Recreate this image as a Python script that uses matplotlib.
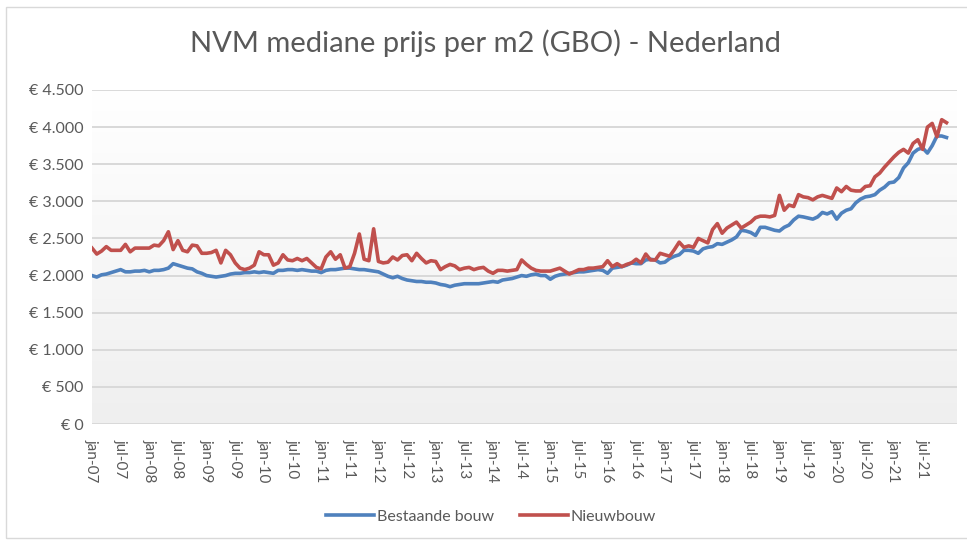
import numpy as np
import matplotlib.pyplot as plt
from matplotlib.colors import LinearSegmentedColormap
from matplotlib.patches import Rectangle

bestaande_bouw = [
    2000, 1980, 2010, 2020, 2040, 2060, 2080, 2050, 2050, 2060, 2060, 2070,  # 2007
    2050, 2070, 2070, 2080, 2100, 2160, 2140, 2120, 2100, 2090, 2050, 2030,  # 2008
    2000, 1990, 1980, 1990, 2000, 2020, 2030, 2030, 2040, 2040, 2050, 2040,  # 2009
    2050, 2040, 2030, 2070, 2070, 2080, 2080, 2070, 2080, 2070, 2060, 2060,  # 2010
    2040, 2070, 2080, 2080, 2090, 2100, 2100, 2090, 2080, 2080, 2070, 2060,  # 2011
    2050, 2020, 1990, 1970, 1990, 1960, 1940, 1930, 1920, 1920, 1910, 1910,  # 2012
    1900, 1880, 1870, 1850, 1870, 1880, 1890, 1890, 1890, 1890, 1900, 1910,  # 2013
    1920, 1910, 1940, 1950, 1960, 1980, 2000, 1990, 2010, 2020, 2000, 2000,  # 2014
    1950, 1990, 2010, 2020, 2030, 2040, 2050, 2050, 2060, 2070, 2080, 2070,  # 2015
    2030, 2100, 2110, 2120, 2140, 2170, 2160, 2160, 2210, 2220, 2210, 2170,  # 2016
    2180, 2230, 2260, 2280, 2340, 2340, 2330, 2300, 2360, 2380, 2390, 2430,  # 2017
    2420, 2450, 2480, 2520, 2610, 2600, 2580, 2540, 2650, 2650, 2630, 2610,  # 2018
    2600, 2650, 2680, 2750, 2800, 2790, 2775, 2760, 2790, 2850, 2830, 2860,  # 2019
    2760, 2840, 2880, 2900, 2980, 3030, 3060, 3070, 3090, 3150, 3190, 3250,  # 2020
    3260, 3320, 3450, 3520, 3650, 3700, 3720, 3650, 3750, 3880, 3880, 3860,  # 2021
]
nieuwbouw = [
    2370, 2290, 2330, 2390, 2340, 2340, 2340, 2420, 2320, 2370, 2370, 2370,  # 2007
    2370, 2410, 2400, 2470, 2590, 2350, 2470, 2340, 2320, 2410, 2400, 2300,  # 2008
    2300, 2310, 2340, 2170, 2340, 2280, 2170, 2100, 2080, 2100, 2140, 2320,  # 2009
    2280, 2280, 2140, 2170, 2280, 2210, 2200, 2230, 2200, 2230, 2170, 2110,  # 2010
    2090, 2250, 2320, 2220, 2280, 2100, 2120, 2300, 2560, 2220, 2200, 2630,  # 2011
    2190, 2170, 2180, 2250, 2210, 2270, 2280, 2200, 2300, 2230, 2170, 2200,  # 2012
    2190, 2080, 2120, 2150, 2130, 2080, 2100, 2110, 2080, 2100, 2110, 2060,  # 2013
    2030, 2070, 2070, 2060, 2070, 2080, 2210, 2150, 2100, 2070, 2060, 2060,  # 2014
    2060, 2080, 2100, 2060, 2020, 2050, 2080, 2080, 2100, 2100, 2110, 2120,  # 2015
    2200, 2120, 2160, 2120, 2150, 2170, 2220, 2170, 2290, 2210, 2210, 2300,  # 2016
    2280, 2260, 2350, 2450, 2380, 2400, 2380, 2500, 2470, 2440, 2620, 2700,  # 2017
    2570, 2640, 2680, 2720, 2640, 2680, 2720, 2780, 2800, 2800, 2790, 2810,  # 2018
    3080, 2880, 2950, 2930, 3090, 3060, 3050, 3020, 3060, 3080, 3060, 3040,  # 2019
    3180, 3130, 3200, 3150, 3140, 3140, 3200, 3210, 3330, 3380, 3460, 3530,  # 2020
    3600, 3660, 3700, 3650, 3780, 3830, 3700, 4000, 4050, 3870, 4100, 4060,  # 2021
]
tick_labels = [
    'jan-07', 'jul-07', 'jan-08', 'jul-08', 'jan-09', 'jul-09', 'jan-10', 'jul-10',
    'jan-11', 'jul-11', 'jan-12', 'jul-12', 'jan-13', 'jul-13', 'jan-14', 'jul-14',
    'jan-15', 'jul-15', 'jan-16', 'jul-16', 'jan-17', 'jul-17', 'jan-18', 'jul-18',
    'jan-19', 'jul-19', 'jan-20', 'jul-20', 'jan-21', 'jul-21',
]
y_ticks = [0, 500, 1000, 1500, 2000, 2500, 3000, 3500, 4000, 4500]
y_labels = ['€ 0', '€ 500', '€ 1.000', '€ 1.500', '€ 2.000', '€ 2.500',
            '€ 3.000', '€ 3.500', '€ 4.000', '€ 4.500']

plt.rcParams['font.family'] = ['Lato', 'DejaVu Sans']
grey = '#595959'

x = np.arange(len(bestaande_bouw))
x_min, x_max = 0, 181.2

fig = plt.figure(figsize=(9.67, 5.44), dpi=100)
fig.patches.append(Rectangle((6/967, 1-538/544), 1.0, 531/544, transform=fig.transFigure,
                             fill=False, edgecolor='#d9d9d9', lw=1))

ax = fig.add_axes([92/967, 1-424/544, (957-92)/967, (424-90)/544])
cmap = LinearSegmentedColormap.from_list('bg', ['#ffffff', '#efefef'])
ax.imshow(np.linspace(0, 1, 256).reshape(-1, 1), cmap=cmap, extent=[x_min, x_max, 0, 4500],
          aspect='auto', zorder=0)
for yv in y_ticks:
    ax.axhline(yv, color='#d9d9d9', lw=1.4, zorder=1)

ax.plot(x, bestaande_bouw, color='#4F81BD', lw=2.6, label='Bestaande bouw', zorder=3)
ax.plot(x, nieuwbouw, color='#C0504D', lw=2.6, label='Nieuwbouw', zorder=4)

ax.set_xlim(x_min, x_max)
ax.set_ylim(0, 4500)
ax.set_yticks(y_ticks)
ax.set_yticklabels(y_labels, fontsize=11.5, color=grey)
ax.set_xticks(x[::6])
ax.set_xticklabels(tick_labels, rotation=-90, fontsize=11, color=grey)
ax.tick_params(axis='y', length=0, pad=6)
ax.tick_params(axis='x', length=0, pad=11)
for s in ax.spines.values():
    s.set_visible(False)

fig.text(486/967, 1-43/544, 'NVM mediane prijs per m2 (GBO) - Nederland', ha='center', va='center',
         fontsize=21, color=grey, fontweight='normal')

leg = fig.legend(loc='center', bbox_to_anchor=(491/967, 1-517/544), ncol=2, frameon=False,
                 handlelength=3, columnspacing=1.6, handletextpad=0.2, fontsize=11.5)
for t in leg.get_texts():
    t.set_color(grey)

fig.savefig('out.png', dpi=100)
